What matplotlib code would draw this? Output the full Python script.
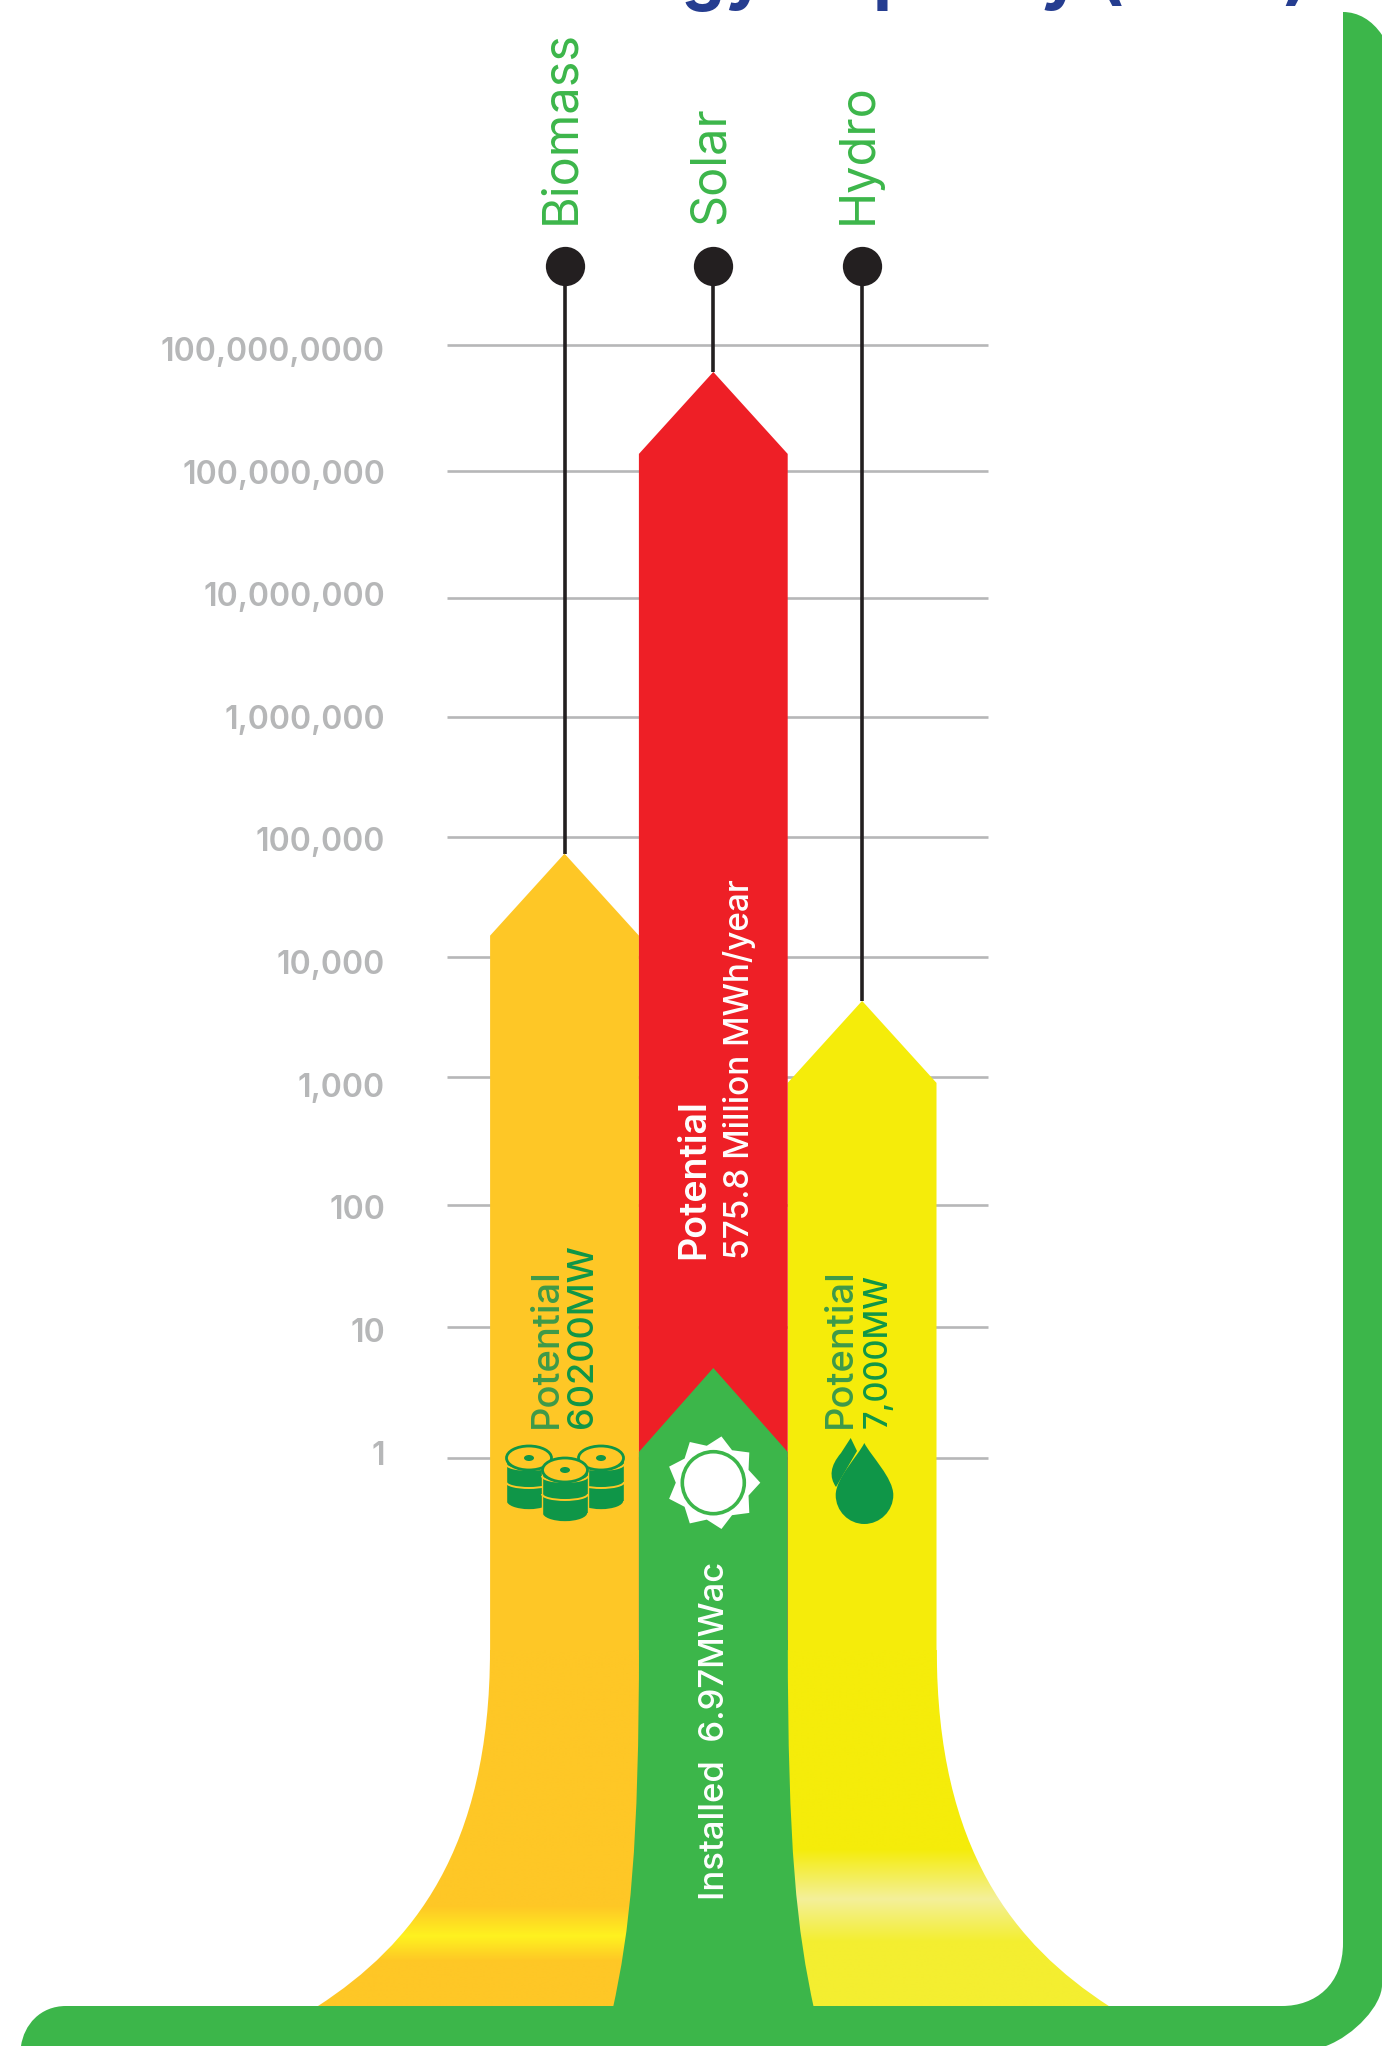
import numpy as np
import matplotlib
matplotlib.use("Agg")
import matplotlib.pyplot as plt
from matplotlib.path import Path
from matplotlib.patches import PathPatch, Ellipse, Circle, Polygon, Rectangle, Arc
from matplotlib.colors import LinearSegmentedColormap
from matplotlib.transforms import Affine2D

plt.rcParams["font.family"] = ["Inter", "DejaVu Sans"]

# Dados
categorias = ["Biomass", "Solar", "Hydro"]
potencial = [72000, 6.07e8, 4270]
instalado_solar = 4.86
ticks_valores = [1, 10, 100, 1000, 10000, 100000, 1000000, 10000000, 100000000, 1000000000]
ticks_nomes = ["1", "10", "100", "1,000", "10,000", "100,000", "1,000,000",
               "10,000,000", "100,000,000", "100,000,0000"]
textos_potencial = ["60200MW", "575.8 Million MWh/year", "7,000MW"]

VERDE = "#3CB64A"
VERDE_ESCURO = "#0F9648"
LARANJA = "#FEC726"
AMARELO = "#F5EC0A"
VERMELHO = "#EE1F26"
CINZA = "#B6B7B8"
PRETO = "#231F20"

# Posicao em pixels de cada decada no eixo (o eixo original nao e regular)
AXIS_PX = np.array([1457.7, 1327, 1204.6, 1076.6, 956.5, 836.5, 716.5, 597.7, 471, 344.5])
LOGS = np.arange(10.0)
INCL = 125.0


def valor_para_px(v):
    v = np.asarray(v, dtype=float)
    L = np.log10(np.maximum(v, 1e-30))
    p = np.interp(L, LOGS, AXIS_PX)
    p = np.where(L < 0, AXIS_PX[0] - L * INCL, p)
    p = np.where(L > 9, AXIS_PX[-1] - (L - 9) * INCL, p)
    return -p


def px_para_valor(y):
    p = -np.asarray(y, dtype=float)
    L = np.interp(p, AXIS_PX[::-1], LOGS[::-1])
    L = np.where(p > AXIS_PX[0], (AXIS_PX[0] - p) / INCL, L)
    L = np.where(p < AXIS_PX[-1], 9 + (AXIS_PX[-1] - p) / INCL, L)
    return 10.0 ** L


def py(y):
    return float(px_para_valor(-y))


def seta(ax, i, valor, cor, zorder, queda=82, base=1665):
    apice = -float(valor_para_px(valor))
    xs = [i - 0.5, i - 0.5, i, i + 0.5, i + 0.5]
    ys = [py(base), py(apice + queda), valor, py(apice + queda), py(base)]
    ax.fill(xs, ys, color=cor, lw=0, zorder=zorder)


def gradiente(deco, patch, x0, x1, y0, y1, paradas):
    cmap = LinearSegmentedColormap.from_list("g", paradas)
    im = deco.imshow(np.linspace(0, 1, 256)[:, None], cmap=cmap, aspect="auto",
                     extent=(x0, x1, y1, y0), zorder=2, interpolation="bilinear")
    deco.add_patch(patch)
    im.set_clip_path(patch)


def barril(deco, cx, topo, w=46, h=64, z=5):
    fundo = topo + h
    deco.add_patch(Ellipse((cx, fundo - 9), w, 18, fc=VERDE_ESCURO, ec=LARANJA, lw=1.2, zorder=z))
    deco.add_patch(Rectangle((cx - w / 2, topo + 12), w, h - 21, fc=VERDE_ESCURO, lw=0, zorder=z))
    deco.plot([cx - w / 2, cx - w / 2], [topo + 12, fundo - 9], color=LARANJA, lw=1.0, zorder=z)
    deco.plot([cx + w / 2, cx + w / 2], [topo + 12, fundo - 9], color=LARANJA, lw=1.0, zorder=z)
    for dy in [18, 36]:
        deco.add_patch(Arc((cx, topo + dy), w, 12, theta1=0, theta2=180, color=LARANJA, lw=1.4, zorder=z + 1))
    deco.add_patch(Ellipse((cx, topo + 12), w - 1, 24, fc=LARANJA, ec=VERDE_ESCURO, lw=2.0, zorder=z + 1))
    deco.add_patch(Ellipse((cx, topo + 12), 10, 6, fc=VERDE_ESCURO, lw=0, zorder=z + 2))


def gotas(deco):
    cod = [Path.MOVETO, Path.CURVE4, Path.CURVE4, Path.CURVE4, Path.CURVE4, Path.CURVE4,
           Path.CURVE4, Path.CURVE4, Path.CURVE4, Path.CURVE4, Path.CURVE4, Path.CURVE4,
           Path.CURVE4, Path.CLOSEPOLY]
    vert = [(864.3, 1443), (871, 1456), (893.3, 1478), (893.3, 1495),
            (893.3, 1511), (880, 1524), (864.3, 1524),
            (848.6, 1524), (835.7, 1511), (835.7, 1495),
            (835.7, 1478), (858, 1456), (864.3, 1443), (864.3, 1443)]
    deco.add_patch(PathPatch(Path(vert, cod), fc=VERDE_ESCURO, lw=0, zorder=5))
    vert2 = [(850.7, 1438), (857, 1451), (836, 1487), (829, 1477), (830, 1466), (841, 1453), (850.7, 1438), (850.7, 1438)]
    cod2 = [Path.MOVETO, Path.LINETO, Path.LINETO, Path.CURVE4, Path.CURVE4, Path.CURVE4, Path.LINETO, Path.CLOSEPOLY]
    deco.add_patch(PathPatch(Path(vert2, cod2), fc=VERDE_ESCURO, lw=0, zorder=5))


def sol(deco, cx=713.3, cy=1482.7):
    ang = np.radians(np.arange(0, 360, 20))
    raio = np.where(np.arange(18) % 2 == 0, 47, 37.5)
    deco.add_patch(Polygon(np.c_[cx + raio * np.cos(ang), cy - raio * np.sin(ang)], fc="white", lw=0, zorder=6))
    deco.add_patch(Circle((cx, cy), 31, fc="white", ec=VERDE, lw=2.6, zorder=7))


def moldura(deco):
    vert = [(1343, 12), (1343, 1943), (1343, 1985), (1315, 2006), (1282, 2006),
            (66, 2006), (40, 2006), (24, 2025), (21, 2046),
            (1326, 2046), (1355, 2035), (1382, 2005), (1382, 1985),
            (1382, 35), (1372, 20), (1358, 12), (1343, 12), (1343, 12)]
    C = Path.CURVE4
    L = Path.LINETO
    cod = [Path.MOVETO, L, C, C, C, L, C, C, C, L, C, C, C, L, C, C, C, Path.CLOSEPOLY]
    deco.add_patch(PathPatch(Path(vert, cod), fc=VERDE, lw=0, zorder=10))


def principal(fig):
    ax = fig.add_axes([0, 0, 1, 1])
    ax.set_yscale("function", functions=(valor_para_px, px_para_valor))
    ax.set_ylim(py(2046), py(0))
    ax.set_xlim(-564.5 / 148.8, (1382 - 564.5) / 148.8)
    ax.set_frame_on(False)
    ax.set_xticks([])
    ax.set_yticks(ticks_valores, ticks_nomes)
    ax.minorticks_off()
    ax.tick_params(axis="y", length=0, pad=-385 * 0.72, labelsize=23, labelcolor=CINZA)
    # os rotulos sao regulares, as linhas nao: desloca cada rotulo ate a sua altura
    for k, lab in enumerate(ax.get_yticklabels()):
        alvo = 1452.5 - k * (1452.5 - 349) / 9
        lab.set_ha("right")
        lab.set_fontweight("semibold")
        lab.set_transform(lab.get_transform() + Affine2D().translate(0, AXIS_PX[k] - alvo))

    xg0, xg1 = (446.6 - 564.5) / 148.8, (988 - 564.5) / 148.8
    ax.hlines(ticks_valores, xg0, xg1, color=CINZA, lw=1.9, zorder=1)

    topo_ponto = py(265.7)
    x = np.arange(len(categorias))
    ax.vlines(x, potencial, topo_ponto, color=PRETO, lw=2.6, zorder=2)
    ax.scatter(x, [topo_ponto] * 3, s=800, color=PRETO, lw=0, zorder=3)

    seta(ax, 0, potencial[0], LARANJA, 4)
    seta(ax, 2, potencial[2], AMARELO, 4)
    seta(ax, 1, potencial[1], VERMELHO, 5)
    seta(ax, 1, instalado_solar, VERDE, 6, queda=84)

    for i, nome in enumerate(categorias):
        ax.text(i - 0.02, py(224), nome, rotation=90, ha="center", va="bottom",
                color=VERDE, fontsize=35, fontweight="normal")
    return ax


def decoracao(fig):
    deco = fig.add_axes([0, 0, 1, 1], facecolor="none")
    deco.axis("off")

    C = Path.CURVE4
    cod = [Path.MOVETO, C, C, C, Path.LINETO, Path.LINETO, Path.CLOSEPOLY]
    orange = [(490, 1650), (490, 1850), (412, 1945), (318, 2006), (713, 2006), (713, 1650), (490, 1650)]
    gradiente(deco, PathPatch(Path(orange, cod), fc="none", lw=0), 300, 720, 1650, 2006,
              [(0, LARANJA), (0.72, LARANJA), (0.805, "#FFF21F"), (0.875, LARANJA), (1, LARANJA)])
    yellow = [(2 * 713.4 - a, b) for a, b in orange]
    gradiente(deco, PathPatch(Path(yellow, cod), fc="none", lw=0), 710, 1120, 1650, 2006,
              [(0, AMARELO), (0.56, AMARELO), (0.70, "#F3F09A"), (0.82, "#F4EE30"), (1, "#F4EE30")])

    cg = [Path.MOVETO, C, C, C, Path.LINETO, C, C, C, Path.CLOSEPOLY]
    verde = [(639, 1640), (639, 1850), (630, 1930), (612.5, 2010), (814.3, 2010),
             (796.8, 1930), (787.8, 1850), (787.8, 1640), (639, 1640)]
    deco.add_patch(PathPatch(Path(verde, cg), fc=VERDE, lw=0, zorder=3))

    barril(deco, 529, 1446, z=5)
    barril(deco, 601, 1446, z=5)
    barril(deco, 565, 1458, z=9)
    gotas(deco)
    sol(deco)
    moldura(deco)

    kw = dict(rotation=90, ha="center", va="bottom", zorder=12)
    deco.text(547, 1428, "Potential", color="#3D9A4A", fontsize=27.5, fontweight="medium", **kw)
    deco.text(583, 1428, textos_potencial[0], color=VERDE_ESCURO, fontsize=26, fontweight="medium", **kw)
    deco.text(841, 1428, "Potential", color="#3D9A4A", fontsize=27.5, fontweight="medium", **kw)
    deco.text(878, 1428, textos_potencial[2], color=VERDE_ESCURO, fontsize=23.5, fontweight="medium", **kw)
    deco.text(694, 1259, "Potential", color="white", fontsize=27, fontweight="semibold", **kw)
    deco.text(740, 1259, textos_potencial[1], color="white", fontsize=24, fontweight="medium", **kw)
    deco.text(715, 1900, "Installed  6.97MWac", color="white", fontsize=25, fontweight="medium", **kw)

    deco.text(1309, -3, "Energy Capacity (2017)", color="#253D90", fontsize=49.5, fontweight="bold",
              ha="right", va="baseline", zorder=12)

    deco.set_xlim(0, 1382)
    deco.set_ylim(2046, 0)
    return deco


def main():
    fig = plt.figure(figsize=(13.82, 20.46), dpi=100, facecolor="white")
    principal(fig)
    decoracao(fig)
    fig.savefig("out.png", dpi=100)


if __name__ == "__main__":
    main()
